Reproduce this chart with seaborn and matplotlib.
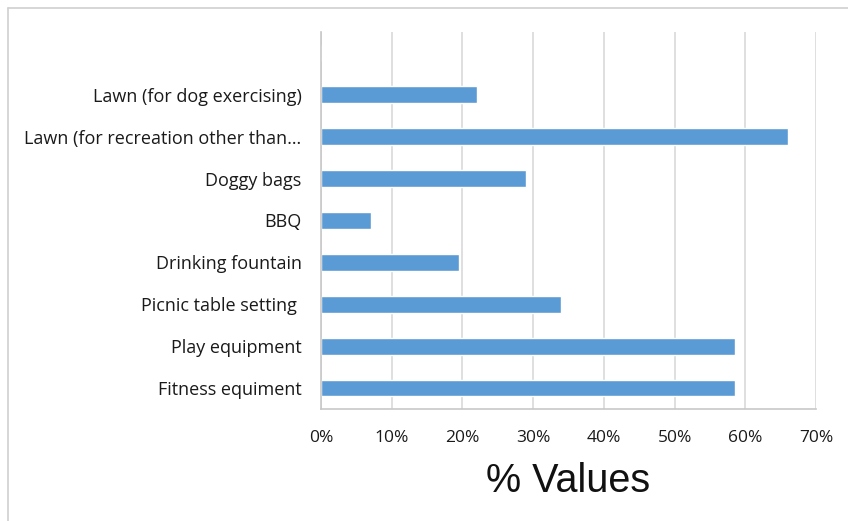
import matplotlib
matplotlib.use('Agg')
import matplotlib.pyplot as plt
from matplotlib.lines import Line2D
from matplotlib.ticker import PercentFormatter
import pandas as pd
import seaborn as sns

# Survey values (share of respondents)
facilities = ['', 'Lawn (for dog exercising)', 'Lawn (for recreation other than\u2026',
              'Doggy bags', 'BBQ', 'Drinking fountain', 'Picnic table setting ',
              'Play equipment', 'Fitness equiment']
values = [0, 22, 66, 29, 7, 19.5, 34, 58.5, 58.5]
x_ticks = [0, 10, 20, 30, 40, 50, 60, 70]

df = pd.DataFrame({'Facility': facilities, 'Value': values})

sns.set_theme(style='white')
plt.rcParams['font.family'] = ['Open Sans', 'DejaVu Sans']

fig = plt.figure(figsize=(8.48, 5.21), dpi=100)
ax = fig.add_axes([321 / 848, 1 - 409 / 521, 495 / 848, 377 / 521])

sns.barplot(data=df, x='Value', y='Facility', orient='h', color='#5b9bd5',
            saturation=1, width=0.4, ax=ax)

ax.set_xlim(0, 70)
ax.set_ylim(8.5, -0.5)
ax.set_xticks(x_ticks)
ax.xaxis.set_major_formatter(PercentFormatter(decimals=0))
ax.grid(axis='x', color='#d9d9d9', linewidth=1.2)
ax.set_axisbelow(True)
ax.tick_params(axis='both', length=0, colors='#1a1a1a')
ax.tick_params(axis='x', pad=15, labelsize=12.5)
ax.tick_params(axis='y', pad=14, labelsize=13)
ax.set_yticks(range(1, 9))
ax.set_yticklabels(facilities[1:])
ax.set_ylabel('')
ax.set_xlabel('% Values', fontsize=28.5, family=['Liberation Sans', 'DejaVu Sans'],
              color='#111111', labelpad=12)

for side in ['top', 'right']:
    ax.spines[side].set_visible(False)
for side in ['left', 'bottom']:
    ax.spines[side].set_color('#c8c8c8')
    ax.spines[side].set_linewidth(1.2)

# thin frame around the chart area (top and left edge only, as in the crop)
fig.add_artist(Line2D([8 / 848, 1], [1 - 8 / 521, 1 - 8 / 521], color='#d0d0d0', linewidth=1.2))
fig.add_artist(Line2D([8 / 848, 8 / 848], [0, 1 - 8 / 521], color='#d0d0d0', linewidth=1.2))

fig.savefig('out.png', dpi=100)
